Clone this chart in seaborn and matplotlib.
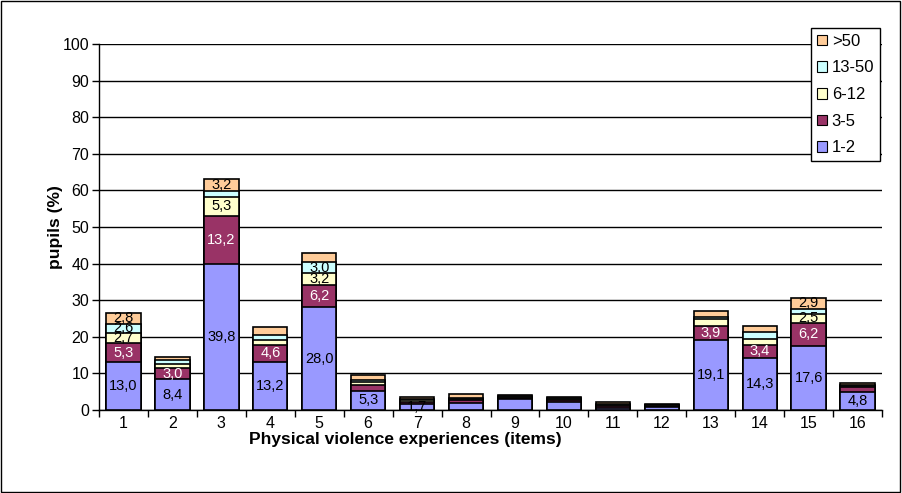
import matplotlib
matplotlib.use("Agg")
import matplotlib.pyplot as plt
from matplotlib.patches import Patch, Rectangle
import numpy as np
import pandas as pd
import seaborn as sns

# Share of pupils (%) per item, split by frequency of the experience
items = [str(i) for i in range(1, 17)]
freq_1_2 = [13.0, 8.4, 39.8, 13.2, 28.0, 5.3, 1.7, 1.8, 3.0, 2.1, 0.6, 0.7, 19.1, 14.3, 17.6, 4.8]
freq_3_5 = [5.3, 3.0, 13.2, 4.6, 6.2, 1.5, 0.6, 0.9, 0.3, 0.6, 0.6, 0.4, 3.9, 3.4, 6.2, 1.4]
freq_6_12 = [2.7, 1.2, 5.3, 1.3, 3.2, 0.8, 0.3, 0.3, 0.2, 0.3, 0.2, 0.2, 1.9, 1.8, 2.5, 0.4]
freq_13_50 = [2.6, 1.0, 1.5, 1.5, 3.0, 0.7, 0.3, 0.2, 0.2, 0.3, 0.2, 0.1, 0.6, 1.7, 1.4, 0.2]
freq_gt_50 = [2.8, 0.9, 3.2, 2.2, 2.4, 1.3, 0.7, 1.1, 0.5, 0.3, 0.7, 0.2, 1.6, 1.8, 2.9, 0.5]

series_names = ["1-2", "3-5", "6-12", "13-50", ">50"]
series_values = [freq_1_2, freq_3_5, freq_6_12, freq_13_50, freq_gt_50]
series_colors = ["#9999FF", "#993366", "#FFFFCC", "#CCFFFF", "#FFCC99"]
label_colors = ["black", "white", "black", "black", "black"]

# Segments that carry a value label: (series index, item index)
labelled = [
    (0, 0), (1, 0), (2, 0), (3, 0), (4, 0),
    (0, 1), (1, 1),
    (0, 2), (1, 2), (2, 2), (4, 2),
    (0, 3), (1, 3),
    (0, 4), (1, 4), (2, 4), (3, 4),
    (0, 5), (0, 6),
    (0, 12), (1, 12),
    (0, 13), (1, 13),
    (0, 14), (1, 14), (2, 14), (4, 14),
    (0, 15),
]

plt.rcParams["font.family"] = ["Liberation Sans", "DejaVu Sans"]

fig = plt.figure(figsize=(9.02, 4.93), dpi=100)
fig.patch.set_facecolor("white")
ax = fig.add_axes([0.1098, 0.1684, 0.9778 - 0.1098, 0.9108 - 0.1684])

values = np.array(series_values)
cum = np.cumsum(values, axis=0)

# Draw cumulative totals from the top layer down so each segment shows
for k in range(len(series_names) - 1, -1, -1):
    df = pd.DataFrame({"item": items, "value": cum[k]})
    sns.barplot(data=df, x="item", y="value", color=series_colors[k],
                saturation=1, width=0.7, edgecolor="black", linewidth=1.2,
                ax=ax, zorder=3)

# Value labels inside the segments
for k, i in labelled:
    v = values[k, i]
    bottom = cum[k, i] - v
    ax.text(i, bottom + v / 2, f"{v:.1f}".replace(".", ","),
            ha="center", va="center", fontsize=10.5,
            color=label_colors[k], zorder=4)

ax.set_ylim(0, 100)
ax.set_xlim(-0.5, len(items) - 0.5)
ax.set_yticks(range(0, 101, 10))
ax.yaxis.grid(True, color="black", linewidth=1, zorder=0)
ax.set_axisbelow(True)
for s in ["top", "right"]:
    ax.spines[s].set_visible(False)
for s in ["left", "bottom"]:
    ax.spines[s].set_color("black")
    ax.spines[s].set_linewidth(1)

# Category labels centred, tick marks between categories
ax.set_xticks(range(len(items)))
ax.set_xticklabels(items)
ax.tick_params(axis="x", which="major", length=0, labelsize=11.5, pad=4)
ax.set_xticks(np.arange(-0.5, len(items)), minor=True)
ax.tick_params(axis="x", which="minor", length=5, width=1, color="black")
ax.tick_params(axis="y", length=5, width=1, labelsize=11.5, color="black", pad=2)

ax.set_xlabel("Physical violence experiences (items)", fontsize=12.5,
              fontweight="bold", va="center")
ax.xaxis.set_label_coords(0.391, -0.08)
ax.set_ylabel("pupils (%)", fontsize=12.5, fontweight="bold", va="center")
ax.yaxis.set_label_coords(-0.056, 0.5)

handles = [Patch(facecolor=series_colors[k], edgecolor="black", linewidth=0.8,
                 label=series_names[k]) for k in range(len(series_names) - 1, -1, -1)]
leg = fig.legend(handles=handles, loc="upper right",
                 bbox_to_anchor=(880 / 902, 1 - 28 / 493),
                 bbox_transform=fig.transFigure, frameon=True, fancybox=False,
                 edgecolor="black", framealpha=1, fontsize=12,
                 handlelength=0.6, handleheight=0.6, handletextpad=0.3,
                 labelspacing=0.7, borderpad=0.35, borderaxespad=0)
leg.get_frame().set_linewidth(1)

fig.patches.append(Rectangle((0.001, 0.002), 0.997, 0.995, transform=fig.transFigure,
                             fill=False, edgecolor="black", linewidth=1))

fig.savefig("out.png", dpi=100)
